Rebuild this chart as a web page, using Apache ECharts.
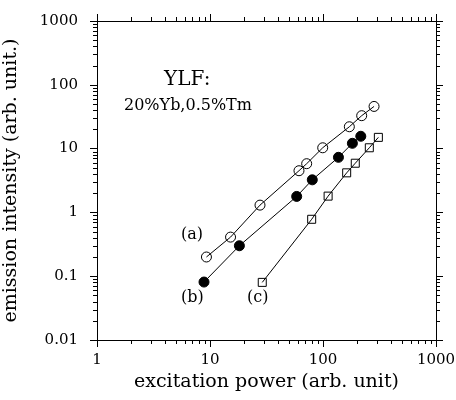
<!DOCTYPE html>
<html>
<head>
<meta charset="utf-8">
<script src="https://cdn.jsdelivr.net/npm/echarts@6/dist/echarts.min.js"></script>
<style>html,body{margin:0;padding:0;background:#fff}#c{width:456px;height:400px}</style>
</head>
<body>
<div id="c"></div>
<script>
// Series (a): open circles
const xA = [9.3, 15.2, 27.7, 61.3, 71.7, 99.4, 171, 220, 283];
const yA = [0.20, 0.41, 1.3, 4.5, 5.8, 10.3, 22, 32.8, 45.8];
// Series (b): filled circles
const xB = [8.85, 18.2, 58.5, 80.4, 137, 182, 216];
const yB = [0.081, 0.30, 1.78, 3.24, 7.3, 12.1, 15.6];
// Series (c): open squares
const xC = [29, 79.4, 111, 162, 193, 257, 309];
const yC = [0.08, 0.78, 1.8, 4.17, 5.9, 10.3, 15.0];

const xTickLabels = ['1', '10', '100', '1000'];
const yTickLabels = ['0.01', '0.1', '1', '10', '100', '1000'];
const minorMult = [2, 3, 4, 5, 6, 7, 8, 9];
const xDecades = [1, 10, 100];
const yDecades = [0.01, 0.1, 1, 10, 100];

const FONT = 'DejaVu Serif';
const chart = echarts.init(document.getElementById('c'), null, {renderer: 'canvas'});

function pairs(xs, ys) { return xs.map((x, i) => [x, ys[i]]); }
function labelFor(list, minExp) {
  return function (v) {
    const k = Math.round(Math.log10(v)) - minExp;
    return list[k] !== undefined ? list[k] : '';
  };
}
const xMinor = [], yMinor = [];
xDecades.forEach(d => minorMult.forEach(m => xMinor.push(m * d)));
yDecades.forEach(d => minorMult.forEach(m => yMinor.push(m * d)));

const axisCommon = {
  type: 'log', logBase: 10,
  axisLine: {show: true, onZero: false, lineStyle: {color: '#000', width: 1}},
  axisTick: {show: true, inside: false, length: 7, lineStyle: {color: '#000', width: 1}},
  minorTick: {show: false},
  splitLine: {show: false}
};

const option = {
  backgroundColor: '#fff',
  animation: false,
  grid: {left: 97, right: 20, top: 21, bottom: 60, containLabel: false, outerBoundsMode: 'none'},
  xAxis: [
    Object.assign({}, axisCommon, {
      position: 'bottom', min: 1, max: 1000, splitNumber: 3,
      axisLabel: {show: true, margin: 13, color: '#000', fontFamily: FONT, fontSize: 15,
        formatter: labelFor(xTickLabels, 0)},
      name: 'excitation power (arb. unit)', nameLocation: 'middle', nameGap: 31,
      nameTextStyle: {color: '#000', fontFamily: FONT, fontSize: 19}
    }),
    Object.assign({}, axisCommon, {
      position: 'top', min: 1, max: 1000, splitNumber: 3,
      axisLabel: {show: false}
    })
  ],
  yAxis: [
    Object.assign({}, axisCommon, {
      position: 'left', min: 0.01, max: 1000, splitNumber: 5,
      axisLabel: {show: true, margin: 19, color: '#000', fontFamily: FONT, fontSize: 15,
        formatter: labelFor(yTickLabels, -2)},
      name: 'emission intensity (arb. unit.)', nameLocation: 'middle', nameGap: 76, nameRotate: 90,
      nameTextStyle: {color: '#000', fontFamily: FONT, fontSize: 19}
    }),
    Object.assign({}, axisCommon, {
      position: 'right', min: 0.01, max: 1000, splitNumber: 5,
      axisLabel: {show: false}
    })
  ],
  series: [
    {
      type: 'line', name: 'a', data: pairs(xA, yA), symbol: 'circle', symbolSize: 10,
      lineStyle: {color: '#000', width: 1},
      itemStyle: {color: 'rgba(0,0,0,0)', borderColor: '#000', borderWidth: 1}
    },
    {
      type: 'line', name: 'b', data: pairs(xB, yB), symbol: 'circle', symbolSize: 10,
      lineStyle: {color: '#000', width: 1},
      itemStyle: {color: '#000', borderColor: '#000', borderWidth: 1}
    },
    {
      type: 'line', name: 'c', data: pairs(xC, yC), symbol: 'rect', symbolSize: 8,
      lineStyle: {color: '#000', width: 1},
      itemStyle: {color: 'rgba(0,0,0,0)', borderColor: '#000', borderWidth: 1}
    },
    {
      type: 'custom', silent: true, clip: false, data: [[1, 1]], z: 10,
      renderItem: function (params, api) {
        const p0 = api.coord([1, 0.01]);
        const p1 = api.coord([1000, 1000]);
        const left = p0[0], bottom = p0[1], right = p1[0], top = p1[1];
        const L = 4;
        const st = {stroke: '#000', lineWidth: 1};
        const ch = [];
        xMinor.forEach(v => {
          const x = Math.round(api.coord([v, 1])[0]) + 0.5;
          ch.push({type: 'line', shape: {x1: x, y1: bottom, x2: x, y2: bottom + L}, style: st});
          ch.push({type: 'line', shape: {x1: x, y1: top, x2: x, y2: top - L}, style: st});
        });
        yMinor.forEach(v => {
          const y = Math.round(api.coord([1, v])[1]) + 0.5;
          ch.push({type: 'line', shape: {x1: left, y1: y, x2: left - L, y2: y}, style: st});
          ch.push({type: 'line', shape: {x1: right, y1: y, x2: right + L, y2: y}, style: st});
        });
        return {type: 'group', children: ch};
      }
    }
  ],
  graphic: [
    {type: 'text', left: 164, top: 70, style: {text: 'YLF:', font: '20px "DejaVu Serif"', fill: '#000'}},
    {type: 'text', left: 124, top: 98, style: {text: '20%Yb,0.5%Tm', font: '16px "DejaVu Serif"', fill: '#000'}},
    {type: 'text', left: 181, top: 227, style: {text: '(a)', font: '16px "DejaVu Serif"', fill: '#000'}},
    {type: 'text', left: 181, top: 290, style: {text: '(b)', font: '16px "DejaVu Serif"', fill: '#000'}},
    {type: 'text', left: 247, top: 290, style: {text: '(c)', font: '16px "DejaVu Serif"', fill: '#000'}}
  ]
};
chart.setOption(option);
</script>
</body>
</html>
